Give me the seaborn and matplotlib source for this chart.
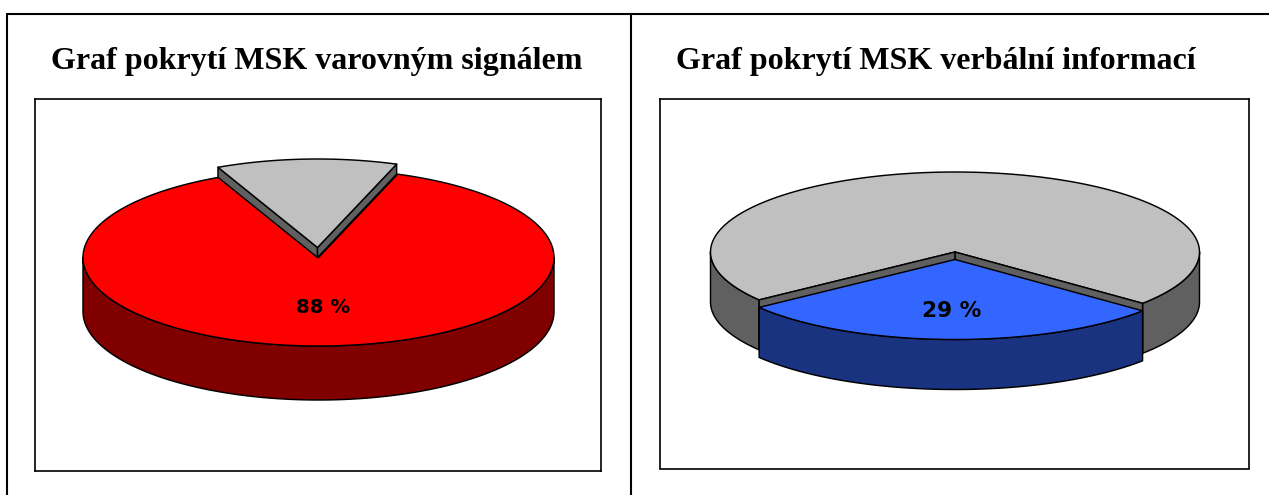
import numpy as np
import matplotlib
matplotlib.use("Agg")
import matplotlib.pyplot as plt
from matplotlib.lines import Line2D
from matplotlib.patches import Polygon
import seaborn as sns

titles = ["Graf pokrytí MSK varovným signálem", "Graf pokrytí MSK verbální informací"]
categories = ["pokryto", "nepokryto"]
left_values = [87.6, 12.4]
right_values = [28.7, 71.3]
labels = ["88 %", "29 %"]
left_colors = {"pokryto": ("#FF0000", "#800000"), "nepokryto": ("#C0C0C0", "#606060")}
right_colors = {"pokryto": ("#3366FF", "#193380"), "nepokryto": ("#C0C0C0", "#606060")}

W, H, DPI = 1269, 495, 100
sns.set_theme(style="white")
plt.rcParams["font.family"] = ["DejaVu Sans"]
fig = plt.figure(figsize=(W / DPI, H / DPI), dpi=DPI, facecolor="white")


def make_axes(x0, x1, y0, y1):
    ax = fig.add_axes([x0 / W, 1 - y1 / H, (x1 - x0) / W, (y1 - y0) / H])
    ax.set_xlim(x0, x1)
    ax.set_ylim(y1, y0)
    ax.set_xticks([])
    ax.set_yticks([])
    sns.despine(ax=ax, top=False, right=False, left=False, bottom=False)
    for s in ax.spines.values():
        s.set_color("black")
        s.set_linewidth(1.2)
    return ax


def pt(c, rx, ry, deg):
    t = np.radians(np.asarray(deg, dtype=float))
    return np.column_stack([c[0] + rx * np.sin(t), c[1] - ry * np.cos(t)])


def arc(c, rx, ry, a, b):
    return pt(c, rx, ry, np.linspace(a, b, 160))


def face(ax, xy, color, z):
    ax.add_patch(Polygon(xy, closed=True, fc=color, ec="black", lw=1.05, joinstyle="round", zorder=z))


def side(ax, c, rx, ry, a, b, depth, color, z):
    top = arc(c, rx, ry, a, b)
    face(ax, np.vstack([top, (top + [0, depth])[::-1]]), color, z)


def sector(ax, c, rx, ry, a, b, color, z):
    face(ax, np.vstack([[c], arc(c, rx, ry, a, b)]), color, z)


def walls(ax, c, rx, ry, a, b, depth, color, z):
    for ang in (a, b):
        p = pt(c, rx, ry, [ang])[0]
        face(ax, np.array([c, p, p + [0, depth], np.array(c) + [0, depth]]), color, z)


# Left chart: grey slice pulled up and away from the red body
ax = make_axes(35, 601, 99, 471)
c = (318.5, 257.5)
rx, ry, depth, lift = 235.5, 88.5, 54, 10
span = left_values[1] * 3.6
a = -25.0
b = a + span
side(ax, c, rx, ry, 90, 270, depth, left_colors["pokryto"][1], 1)
sector(ax, c, rx, ry, b, a + 360, left_colors["pokryto"][0], 2)
c2 = (c[0] - 1, c[1] - lift)
walls(ax, c2, rx, ry, a, b, lift, left_colors["nepokryto"][1], 3)
sector(ax, c2, rx, ry, a, b, left_colors["nepokryto"][0], 4)
ax.text(323, 307.5, labels[0], ha="center", va="center", fontsize=14.2, fontweight="bold",
        color="black", zorder=6)

# Right chart: blue slice pulled towards the viewer
ax = make_axes(659.5, 1249, 99, 468.5)
c = (955.0, 252.0)
rx, ry, depth, drop = 244.5, 80.0, 50, 7.5
span = right_values[0] * 3.6
a = 129.9
b = a + span
side(ax, c, rx, ry, 90, a, depth, right_colors["nepokryto"][1], 1)
side(ax, c, rx, ry, b, 270, depth, right_colors["nepokryto"][1], 1)
sector(ax, c, rx, ry, b, a + 360, right_colors["nepokryto"][0], 2)
walls(ax, c, rx, ry, a, b, depth, right_colors["nepokryto"][1], 3)
c2 = (c[0], c[1] + drop)
side(ax, c2, rx, ry, a, b, depth, right_colors["pokryto"][1], 4)
sector(ax, c2, rx, ry, a, b, right_colors["pokryto"][0], 5)
ax.text(952, 311, labels[1], ha="center", va="center", fontsize=15.6, fontweight="bold",
        color="black", zorder=6)

# Table rules around the two panels
for x0, y0, x1, y1 in [(7, 13.5, W, 13.5), (7, 13.5, 7, H), (631, 13.5, 631, H)]:
    fig.add_artist(Line2D([x0 / W, x1 / W], [1 - y0 / H, 1 - y1 / H], color="black", lw=1.5))

for x, title in zip((317, 935.5), titles):
    fig.text(x / W, 1 - 69 / H, title, ha="center", va="baseline", fontsize=23,
             fontweight="bold", family=["Liberation Serif", "DejaVu Serif"], color="black")

fig.savefig("out.png", dpi=DPI)
